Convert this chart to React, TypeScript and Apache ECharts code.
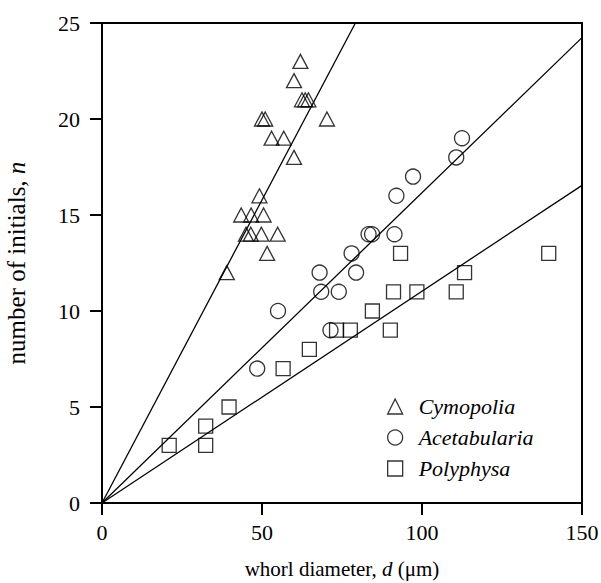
import React, { useEffect, useRef } from "react";
import * as echarts from "echarts";

// Data (whorl diameter d in µm, number of initials n)
const cymopolia: [number, number][] = [
  [62, 23], [60, 22], [62.5, 21], [63.5, 21], [64.5, 21],
  [50, 20], [51, 20], [70.3, 20], [53, 19], [56.8, 19], [60, 18],
  [49.2, 16], [43.5, 15], [46.6, 15], [50.5, 15],
  [45, 14], [46.5, 14], [49.8, 14], [54.9, 14], [51.6, 13], [39, 12],
];
const acetabularia: [number, number][] = [
  [48.5, 7], [71.4, 9], [55, 10], [68.5, 11], [74, 11], [68, 12], [79.4, 12],
  [78, 13], [83.3, 14], [84.4, 14], [91.4, 14], [92, 16], [97.2, 17],
  [110.7, 18], [112.5, 19],
];
const polyphysa: [number, number][] = [
  [21, 3], [32.4, 3], [32.4, 4], [39.7, 5], [56.6, 7], [64.8, 8],
  [73.3, 9], [77.6, 9], [90.1, 9], [84.5, 10], [91.1, 11], [98.4, 11],
  [110.7, 11], [113.3, 12], [93.3, 13], [139.6, 13],
];
// Fitted slopes of lines through the origin (n = k d)
const cymopoliaSlope = 0.3157;
const acetabulariaSlope = 0.1616;
const polyphysaSlope = 0.1103;

const xTicks = { min: 0, max: 150, interval: 50 };
const yTicks = { min: 0, max: 25, interval: 5 };
const seriesNames = ["Cymopolia", "Acetabularia", "Polyphysa"];

const FONT = "Times New Roman, Liberation Serif, serif";

function fitLine(k: number): [number, number][] {
  const xEnd = Math.min(xTicks.max, yTicks.max / k);
  return [[0, 0], [xEnd, k * xEnd]];
}

export default function App() {
  const ref = useRef<HTMLDivElement>(null);
  useEffect(() => {
    if (!ref.current) return;
    const chart = echarts.init(ref.current, null, { renderer: "svg" });
    const markerStyle = { color: "transparent", borderColor: "#000", borderWidth: 1.3 };
    const lineStyle = { color: "#000", width: 1.3 };
    const mkScatter = (name: string, data: [number, number][], symbol: string, size: number | number[]) => ({
      type: "scatter",
      name,
      data,
      symbol,
      symbolSize: size,
      itemStyle: markerStyle,
      z: 3,
    });
    const mkLine = (k: number) => ({
      type: "line",
      data: fitLine(k),
      symbol: "none",
      lineStyle,
      silent: true,
      clip: true,
      z: 2,
    });
    const nameStyle = (size: number) => ({
      fontFamily: FONT,
      fontSize: size,
      color: "#000",
      rich: { i: { fontFamily: FONT, fontSize: size, fontStyle: "italic", color: "#000" } },
    });
    chart.setOption({
      animation: false,
      backgroundColor: "#fff",
      textStyle: { fontFamily: FONT },
      grid: {
        left: 102,
        top: 23,
        width: 480,
        height: 480,
        containLabel: false,
        outerBoundsMode: "none",
        show: true,
        borderColor: "#000",
        borderWidth: 2,
        backgroundColor: "transparent",
      },
      xAxis: {
        type: "value",
        min: xTicks.min,
        max: xTicks.max,
        interval: xTicks.interval,
        name: "whorl diameter, {i|d} (\u03bcm)",
        nameLocation: "middle",
        nameGap: 55,
        nameTextStyle: nameStyle(21),
        axisLine: { show: true, lineStyle: { color: "#000", width: 2 } },
        axisTick: { show: true, inside: false, length: 12, lineStyle: { color: "#000", width: 2 } },
        axisLabel: { fontFamily: FONT, fontSize: 22, color: "#000", margin: 18 },
        splitLine: { show: false },
      },
      yAxis: {
        type: "value",
        min: yTicks.min,
        max: yTicks.max,
        interval: yTicks.interval,
        name: "number of initials, {i|n}",
        nameLocation: "middle",
        nameRotate: 90,
        nameGap: 73,
        nameTextStyle: nameStyle(25),
        axisLine: { show: true, lineStyle: { color: "#000", width: 2 } },
        axisTick: { show: true, inside: false, length: 12, lineStyle: { color: "#000", width: 2 } },
        axisLabel: { fontFamily: FONT, fontSize: 22, color: "#000", margin: 22 },
        splitLine: { show: false },
      },
      legend: {
        orient: "vertical",
        left: 387,
        top: 395,
        padding: 0,
        itemWidth: 15,
        itemHeight: 15,
        itemGap: 8,
        textStyle: {
          fontFamily: FONT,
          fontSize: 22,
          lineHeight: 23,
          fontStyle: "italic",
          color: "#000",
          padding: [0, 0, 0, 11],
        },
        data: [
          { name: seriesNames[0], icon: "triangle", itemStyle: markerStyle },
          { name: seriesNames[1], icon: "circle", itemStyle: markerStyle },
          { name: seriesNames[2], icon: "rect", itemStyle: markerStyle },
        ],
      },
      series: [
        mkLine(cymopoliaSlope),
        mkLine(acetabulariaSlope),
        mkLine(polyphysaSlope),
        mkScatter(seriesNames[0], cymopolia, "triangle", [15, 14]),
        mkScatter(seriesNames[1], acetabularia, "circle", 15),
        mkScatter(seriesNames[2], polyphysa, "rect", 14),
      ],
    });
    return () => chart.dispose();
  }, []);
  return (
    <div
      ref={ref}
      style={{ position: "fixed", left: 0, top: 0, width: 601, height: 583, background: "#fff" }}
    />
  );
}
